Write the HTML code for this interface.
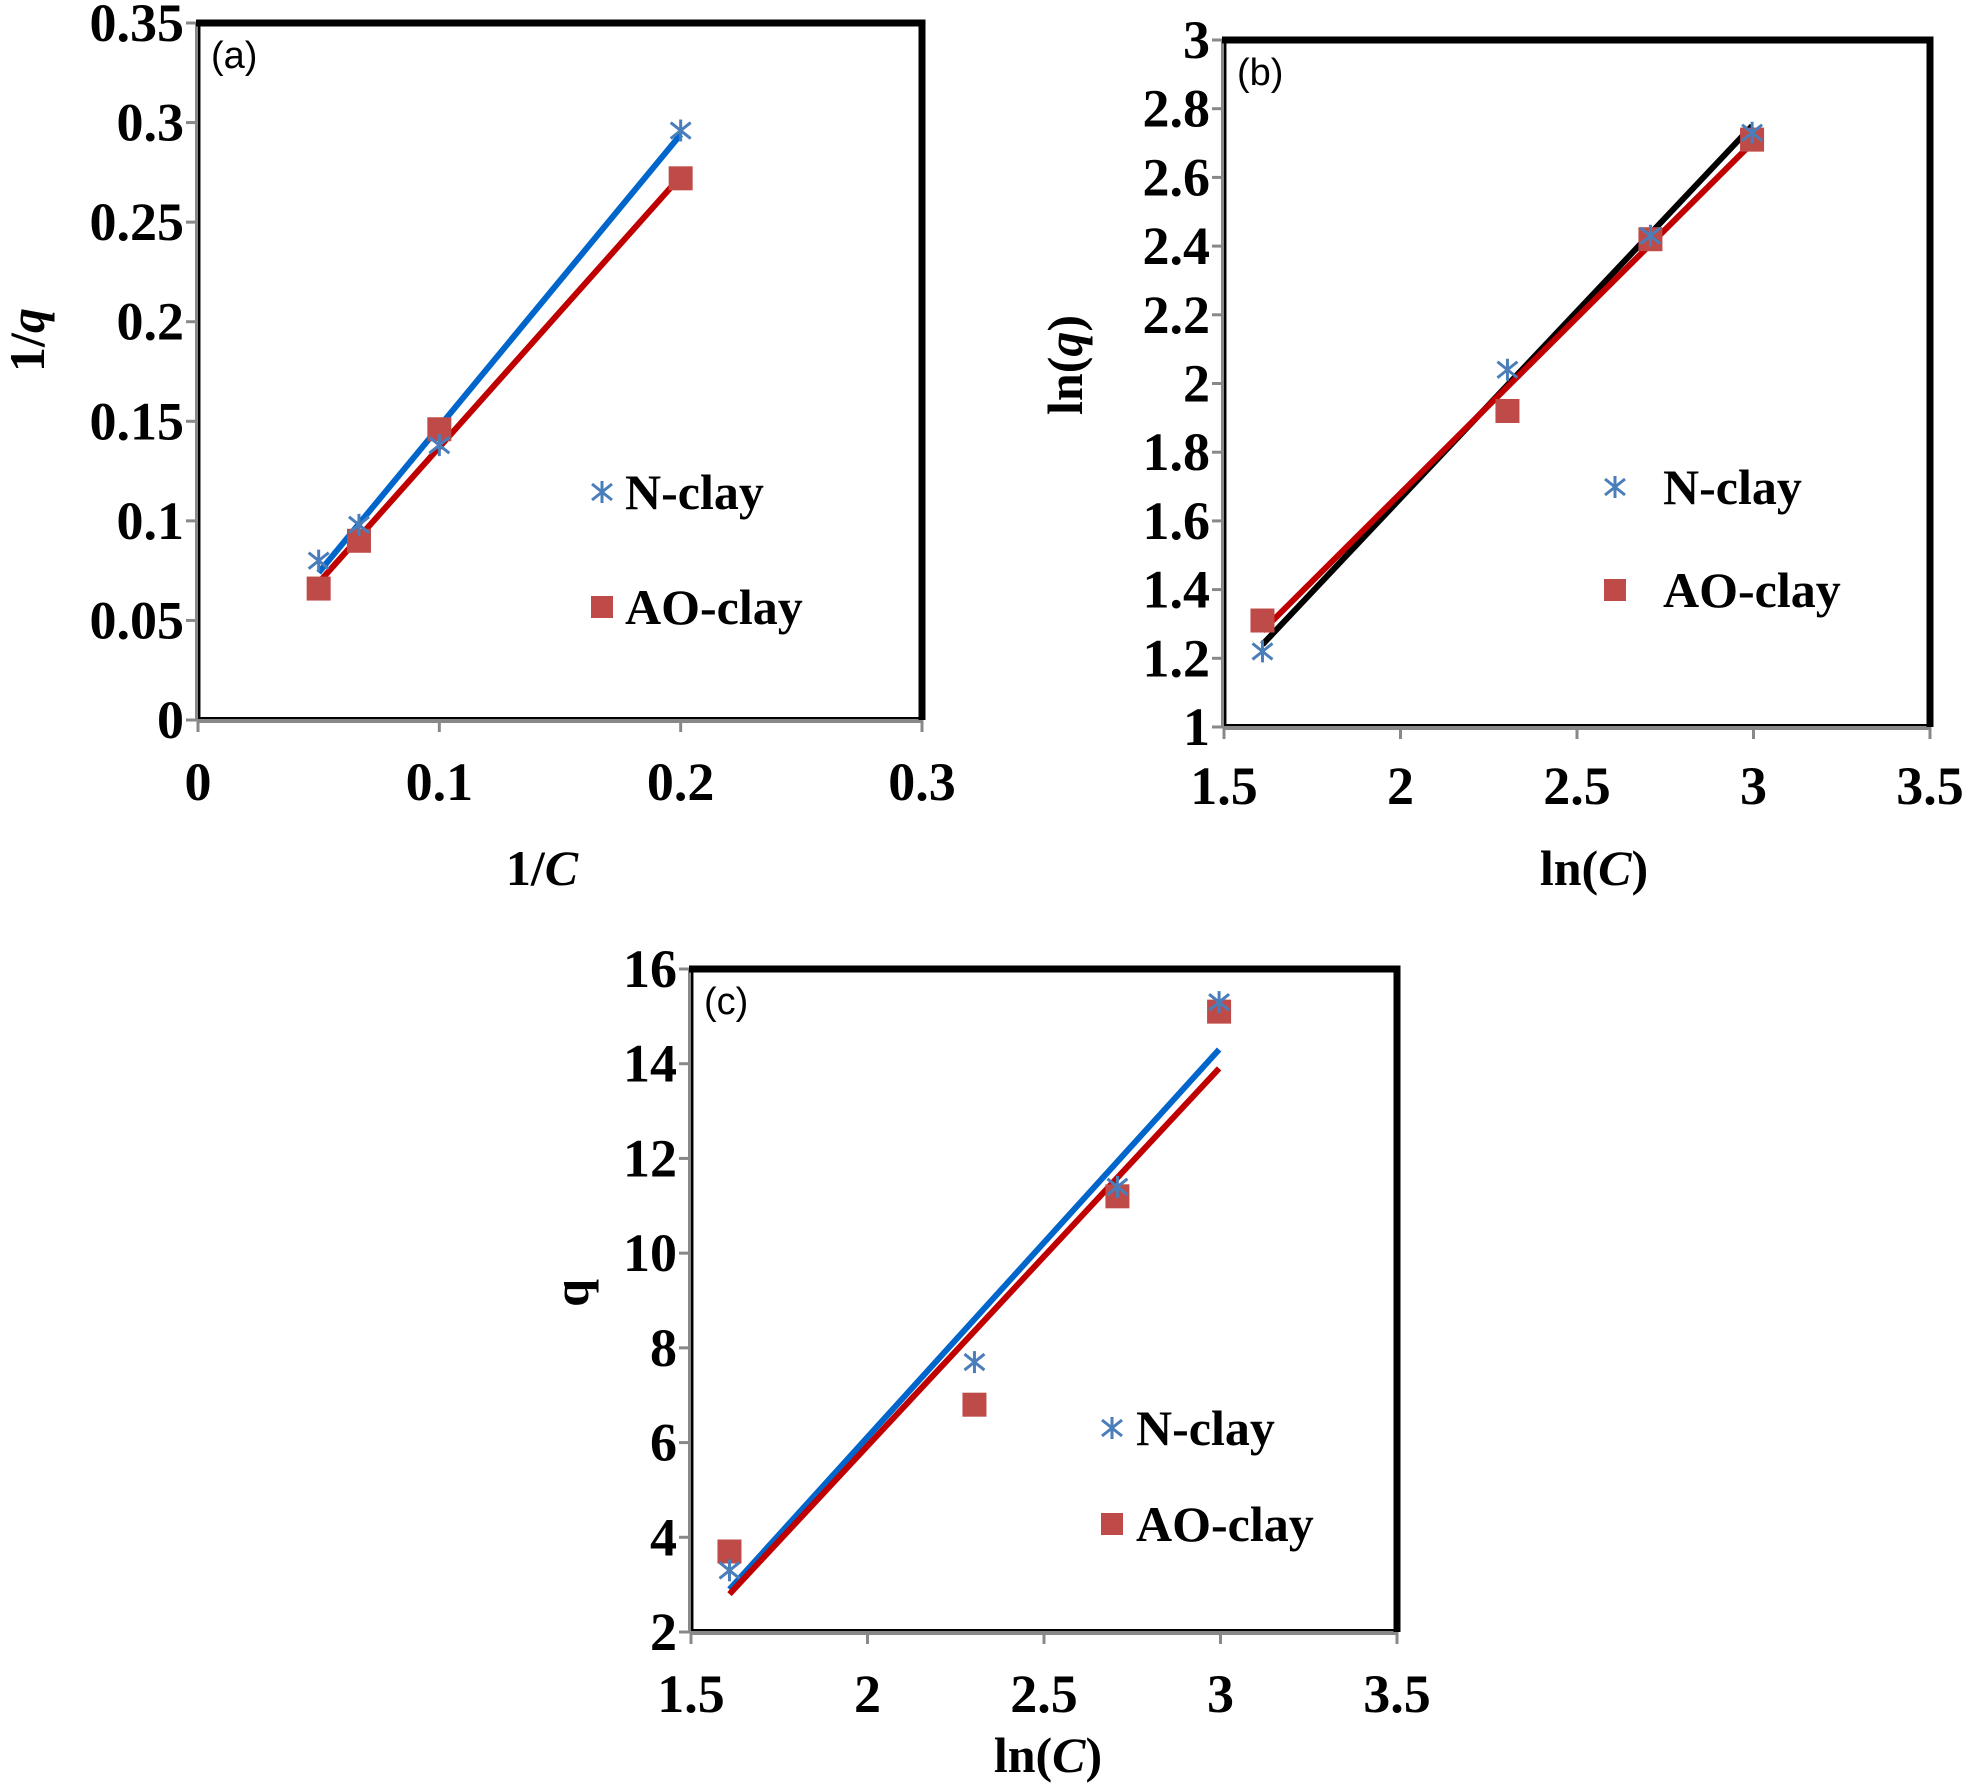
<!DOCTYPE html>
<html><head><meta charset="utf-8"><style>
html,body{margin:0;padding:0;background:#fff;}
svg{display:block;}
text{font-family:"Liberation Serif",serif;font-weight:bold;fill:#000;}
</style></head><body>
<svg id="fig" width="1968" height="1783" viewBox="0 0 1968 1783" xmlns="http://www.w3.org/2000/svg"></svg>
<script>
// ---- Chart (a) data ----
const aX = [0.05, 0.0667, 0.1, 0.2];
const aN = [0.080, 0.098, 0.138, 0.296];
const aAO = [0.066, 0.090, 0.146, 0.272];
const aFitN = [0.074, 0.294];
const aFitAO = [0.069, 0.273];
const aYTicks = ["0","0.05","0.1","0.15","0.2","0.25","0.3","0.35"];
const aXTicks = ["0","0.1","0.2","0.3"];
// ---- Chart (b) data ----
const bX = [1.609, 2.303, 2.708, 2.996];
const bN = [1.22, 2.04, 2.43, 2.73];
const bAO = [1.31, 1.92, 2.42, 2.71];
const bFitN = [1.24, 2.75];
const bFitAO = [1.28, 2.70];
const bYTicks = ["1","1.2","1.4","1.6","1.8","2","2.2","2.4","2.6","2.8","3"];
const bXTicks = ["1.5","2","2.5","3","3.5"];
// ---- Chart (c) data ----
const cX = [1.609, 2.303, 2.708, 2.996];
const cN = [3.3, 7.7, 11.4, 15.3];
const cAO = [3.7, 6.8, 11.2, 15.1];
const cFitN = [2.9, 14.3];
const cFitAO = [2.8, 13.9];
const cYTicks = ["2","4","6","8","10","12","14","16"];
const cXTicks = ["1.5","2","2.5","3","3.5"];

const NS = "http://www.w3.org/2000/svg";
const svg = document.getElementById('fig');
function mk(tag, attrs, parent){const e=document.createElementNS(NS,tag);for(const k in attrs)e.setAttribute(k,attrs[k]);(parent||svg).appendChild(e);return e;}

function chart(o){
  const g = mk('g',{});
  
  
  const {L,R,T,B,x0,x1,y0,y1} = o;
  const sx = v => L + (v-x0)/(x1-x0)*(R-L);
  const sy = v => B - (v-y0)/(y1-y0)*(B-T);
  o.yt.forEach(t=>{
    const y=sy(parseFloat(t));
    const tk=mk('line',{x1:L-12,x2:L,y1:y,y2:y,stroke:'#888','stroke-width':3},g);
    
    
    const tx=mk('text',{x:L-14,y:y+18,'text-anchor':'end','font-size':54},g);
    tx.textContent=t;
    
    
  });
  o.xt.forEach(t=>{
    const x=sx(parseFloat(t));
    const tk=mk('line',{x1:x,x2:x,y1:B,y2:B+12,stroke:'#888','stroke-width':3},g);
    
    
    const tx=mk('text',{x:x,y:o.xtY,'text-anchor':'middle','font-size':54},g);
    tx.textContent=t;
    
    
  });
  const fr=mk('path',{d:`M${L},${B} L${L},${T} M${L},${B} L${R},${B}`,stroke:'#888','stroke-width':6,fill:'none'},g);
  
  
  mk('path',{d:`M${L+1},${B-2} L${L+1},${T} M${L},${B-2} L${R},${B-2}`,stroke:'#000','stroke-width':2,fill:'none'},g);
  const fr2=mk('path',{d:`M${L-2},${T} L${R},${T} L${R},${B}`,stroke:'#000','stroke-width':7,fill:'none'},g);
  
  
  const pl=mk('text',{x:L+13,y:T+45,'font-size':38,style:'font-family:"Liberation Sans",sans-serif;font-weight:normal'},g);
  pl.textContent=o.panel;
  
  
  const xs=[o.x[0],o.x[o.x.length-1]];
  const l1=mk('line',{x1:sx(xs[0]),y1:sy(o.fitN[0]),x2:sx(xs[1]),y2:sy(o.fitN[1]),stroke:o.nLine,'stroke-width':6},g);
  
  
  const l2=mk('line',{x1:sx(xs[0]),y1:sy(o.fitAO[0]),x2:sx(xs[1]),y2:sy(o.fitAO[1]),stroke:'#c00000','stroke-width':6},g);
  
  
  o.x.forEach((xv,i)=>{
    const s=mk('rect',{x:sx(xv)-12,y:sy(o.ao[i])-12,width:24,height:24,fill:'#be4b48'},g);
    
    
  });
  function star(cx,cy,parent){
    return mk('path',{d:`M${cx},${cy-11} L${cx},${cy+11} M${cx-10},${cy-8} L${cx+10},${cy+8} M${cx-10},${cy+8} L${cx+10},${cy-8}`,stroke:'#4a7ebb','stroke-width':3,fill:'none'},parent);
  }
  o.x.forEach((xv,i)=>{
    const s=star(sx(xv),sy(o.n[i]),g);
    
    
  });
  const lg=mk('g',{},g);
  
  
  const ls=star(o.leg[0],o.leg[1],lg);
  
  
  const lt1=mk('text',{x:o.leg[2],y:o.leg[1]+17,'font-size':50},lg);
  lt1.textContent='N-clay';
  
  
  const lr=mk('rect',{x:o.leg[0]-11,y:o.leg[3]-11,width:22,height:22,fill:'#be4b48'},lg);
  
  
  const lt2=mk('text',{x:o.leg[2],y:o.leg[3]+17,'font-size':50},lg);
  lt2.textContent='AO-clay';
  
  
  const xt=mk('text',{x:o.xTitle[0],y:o.xTitle[1],'text-anchor':'middle','font-size':50},g);
  xt.innerHTML=o.xTitleHtml;
  
  
  const yt=mk('text',{x:0,y:0,'text-anchor':'middle','font-size':50,transform:`translate(${o.yTitle[0]},${o.yTitle[1]}) rotate(-90)`},g);
  yt.innerHTML=o.yTitleHtml;
  
  
}

chart({name:'chart-a',panel:'(a)',L:198,R:922,T:23,B:720,x0:0,x1:0.3,y0:0,y1:0.35,
  yt:aYTicks,xt:aXTicks,xtY:800,x:aX,n:aN,ao:aAO,fitN:aFitN,fitAO:aFitAO,nLine:'#0066cc',
  leg:[602,492,625,607],xTitle:[542,885],xTitleHtml:'1/<tspan font-style="italic">C</tspan>',
  yTitle:[44,340],yTitleHtml:'1/<tspan font-style="italic">q</tspan>'});
chart({name:'chart-b',panel:'(b)',L:1224,R:1930,T:40,B:727,x0:1.5,x1:3.5,y0:1,y1:3,
  yt:bYTicks,xt:bXTicks,xtY:804,x:bX,n:bN,ao:bAO,fitN:bFitN,fitAO:bFitAO,nLine:'#000000',
  leg:[1615,487,1663,590],xTitle:[1594,885],xTitleHtml:'ln(<tspan font-style="italic">C</tspan>)',
  yTitle:[1082,365],yTitleHtml:'ln(<tspan font-style="italic">q</tspan>)'});
chart({name:'chart-c',panel:'(c)',L:691,R:1397,T:969,B:1632,x0:1.5,x1:3.5,y0:2,y1:16,
  yt:cYTicks,xt:cXTicks,xtY:1712,x:cX,n:cN,ao:cAO,fitN:cFitN,fitAO:cFitAO,nLine:'#0066cc',
  leg:[1112,1428,1136,1524],xTitle:[1048,1772],xTitleHtml:'ln(<tspan font-style="italic">C</tspan>)',
  yTitle:[588,1293],yTitleHtml:'q'});
</script>
</body></html>
